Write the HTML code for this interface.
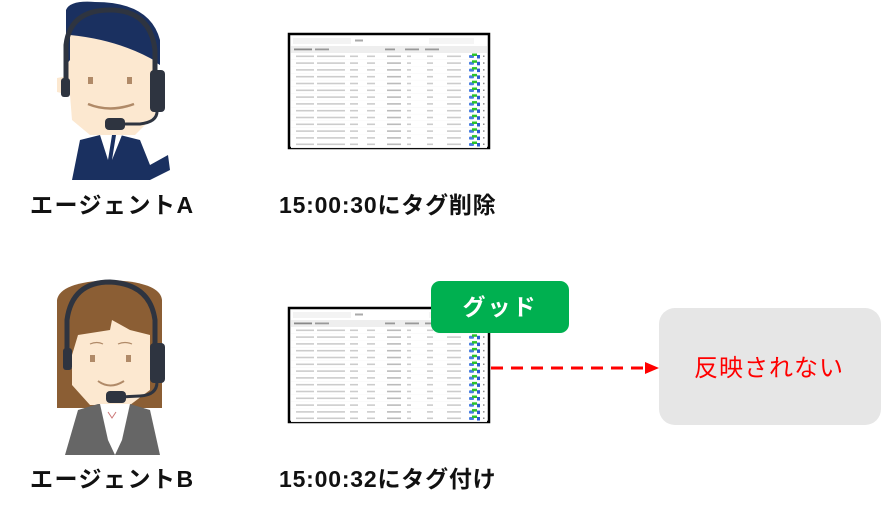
<!DOCTYPE html>
<html><head><meta charset="utf-8"><style>
body{margin:0;background:#fff;width:881px;height:512px;overflow:hidden;position:relative;font-family:"Liberation Sans","Noto Sans CJK JP",sans-serif}
.t{position:absolute;font-weight:bold;font-size:23px;color:#111;white-space:nowrap;line-height:1}
</style></head><body>
<svg width="881" height="512" style="position:absolute;left:0;top:0">
<defs>
<g id="row">
<rect x="0" y="0" width="196" height="6.8" fill="#fff"/>
<line x1="0" y1="6.8" x2="196" y2="6.8" stroke="#eee" stroke-width="0.5"/>
<rect x="5" y="2.5" width="18" height="1.6" fill="#ccc"/>
<rect x="26" y="2.5" width="28" height="1.6" fill="#ccc"/>
<rect x="59" y="2.5" width="8" height="1.6" fill="#ccc"/>
<rect x="76" y="2.5" width="8" height="1.6" fill="#ccc"/>
<rect x="96" y="2.5" width="14" height="1.6" fill="#bbb"/>
<rect x="116" y="2.5" width="4" height="1.6" fill="#ccc"/>
<rect x="136" y="2.5" width="6" height="1.6" fill="#ccc"/>
<rect x="156" y="2.5" width="14" height="1.6" fill="#ccc"/>
<rect x="178" y="2" width="5" height="3" rx="1" fill="#4a7fe0"/>
<rect x="181" y="0.5" width="5" height="2.5" fill="#2bc22b"/>
<rect x="186" y="2" width="3" height="3.5" fill="#2a5bd0"/>
<rect x="192" y="2.5" width="1.5" height="1.5" fill="#888"/>
</g>
<g id="tbl">
<rect x="0" y="0" width="200" height="114" fill="#fff" stroke="#000" stroke-width="2.5"/>
<rect x="4" y="4" width="58" height="6" fill="#f3f3f3"/>
<rect x="66" y="5.5" width="8" height="2" fill="#aaa"/>
<rect x="140" y="4" width="45" height="6" fill="#f5f5f5"/>
<rect x="2" y="12" width="196" height="7" fill="#eee"/>
<rect x="5" y="14.5" width="18" height="1.8" fill="#888"/>
<rect x="26" y="14.5" width="14" height="1.8" fill="#999"/>
<rect x="96" y="14.5" width="10" height="1.8" fill="#999"/>
<rect x="116" y="14.5" width="14" height="1.8" fill="#999"/>
<rect x="136" y="14.5" width="14" height="1.8" fill="#999"/>
<use href="#row" x="2" y="19"/><use href="#row" x="2" y="25.8"/><use href="#row" x="2" y="32.6"/>
<use href="#row" x="2" y="39.4"/><use href="#row" x="2" y="46.2"/><use href="#row" x="2" y="53"/>
<use href="#row" x="2" y="59.8"/><use href="#row" x="2" y="66.6"/><use href="#row" x="2" y="73.4"/>
<use href="#row" x="2" y="80.2"/><use href="#row" x="2" y="87"/><use href="#row" x="2" y="93.8"/>
<use href="#row" x="2" y="100.6"/><use href="#row" x="2" y="107"/>
</g>
</defs>
<!-- person A -->
<path d="M66 10 Q70 0 95 2 Q150 2 160 40 L160 65 Q120 40 66 35 Z" fill="#1a3060"/>
<path d="M57 78 L68 76 L70 35 Q120 40 157 62 L155 115 L135 135 L90 135 L72 120 L70 95 L57 92 Z" fill="#fce8d0"/>
<path d="M66 30 L66 65 L70 60 L70 35 Z" fill="#1a3060"/>
<rect x="88" y="77" width="5" height="7" fill="#b08a68"/><rect x="127" y="77" width="5" height="7" fill="#b08a68"/>
<path d="M88 104 Q110 113 134 104" stroke="#b08a68" stroke-width="2.5" fill="none"/>
<path d="M66 95 L66 45 Q70 10 110 10 Q150 10 155 50 L155 80" stroke="#2e3440" stroke-width="5" fill="none"/>
<rect x="61" y="78" width="9" height="19" rx="3" fill="#2e3440"/>
<rect x="150" y="70" width="15" height="42" rx="4" fill="#2e3440"/>
<path d="M157 110 Q158 122 140 124 L115 124" stroke="#2e3440" stroke-width="3" fill="none"/>
<rect x="105" y="118" width="20" height="12" rx="4" fill="#2e3440"/>
<path d="M72 180 L80 140 L100 135 L120 135 L140 140 L150 165 L168 155 L170 170 L150 180 Z" fill="#1a3060"/>
<path d="M100 135 L108 160 L112 135 Z M116 135 L112 160 L122 135 Z" fill="#fff"/>
<!-- person B -->
<path d="M57 300 Q60 282 110 280 Q160 282 162 300 L162 408 L57 408 Z" fill="#8b5e34"/>
<path d="M65 355 L72 355 L78 335 L110 330 L112 320 L130 330 L150 335 L150 390 L130 405 L90 405 L72 385 L72 368 L65 365 Z" fill="#fce8d0"/>
<path d="M90 344 Q97 341 103 344 M118 344 Q125 341 132 344" stroke="#b08a68" stroke-width="1.2" fill="none"/>
<rect x="90" y="355" width="5" height="7" fill="#b08a68"/><rect x="126" y="355" width="5" height="7" fill="#b08a68"/>
<path d="M98 381 Q110 390 124 381" stroke="#b08a68" stroke-width="2" fill="none"/>
<path d="M67 365 L67 320 Q72 282 110 282 Q150 284 155 320 L155 345" stroke="#2e3440" stroke-width="5" fill="none"/>
<rect x="63" y="348" width="9" height="22" rx="3" fill="#2e3440"/>
<rect x="150" y="343" width="15" height="40" rx="4" fill="#2e3440"/>
<path d="M157 382 Q157 395 140 396 L120 397" stroke="#2e3440" stroke-width="3" fill="none"/>
<rect x="106" y="391" width="20" height="12" rx="4" fill="#2e3440"/>
<path d="M65 455 L78 410 L98 404 L130 404 L150 410 L160 455 Z" fill="#666"/>
<path d="M100 404 L130 404 L122 440 L115 455 L108 440 Z" fill="#fff"/>
<path d="M108 412 L112 418 L116 412" stroke="#c77" stroke-width="1" fill="none"/>
<!-- tables -->
<use href="#tbl" x="289" y="34"/>
<use href="#tbl" x="289" y="308"/>
<!-- badge -->
<rect x="431" y="281" width="138" height="52" rx="9" fill="#00b050"/>
<text x="500" y="315" text-anchor="middle" font-size="23" font-weight="bold" fill="#fff" letter-spacing="2" font-family="Liberation Sans, Noto Sans CJK JP, sans-serif">グッド</text>
<!-- arrow -->
<line x1="491" y1="368" x2="648" y2="368" stroke="#f00" stroke-width="3" stroke-dasharray="12,8"/>
<polygon points="645,362 659,368 645,374" fill="#f00"/>
<rect x="659" y="308" width="222" height="117" rx="16" fill="#e6e6e6"/>
<text x="769" y="376" text-anchor="middle" font-size="24" fill="#f00" letter-spacing="1" font-family="Liberation Sans, Noto Sans CJK JP, sans-serif">反映されない</text>
</svg>
<div class="t" style="left:30px;top:194px;letter-spacing:1.5px">エージェントA</div>
<div class="t" style="left:279px;top:194px;letter-spacing:0.8px">15:00:30にタグ削除</div>
<div class="t" style="left:30px;top:468px;letter-spacing:1.5px">エージェントB</div>
<div class="t" style="left:279px;top:468px;letter-spacing:0.8px">15:00:32にタグ付け</div>
</body></html>
